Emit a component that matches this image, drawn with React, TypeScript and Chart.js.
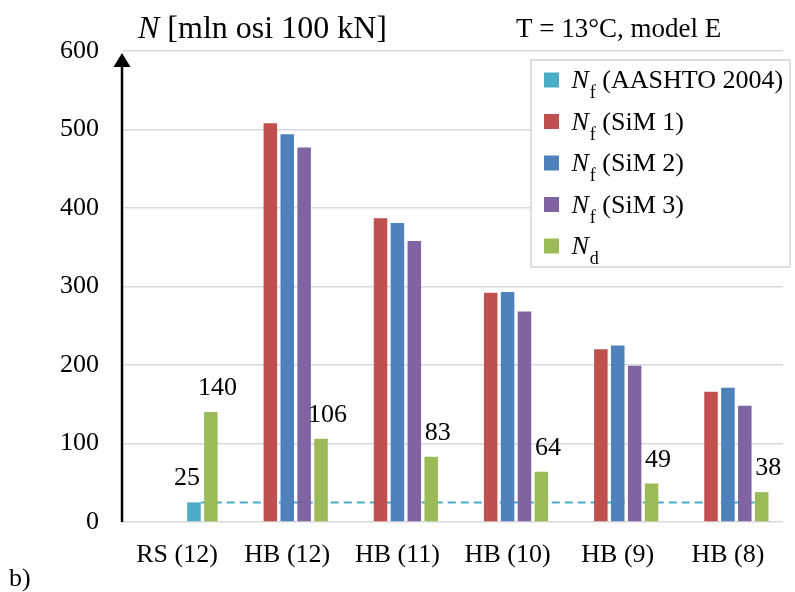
import { useEffect, useRef } from 'react';
import { Chart, registerables } from 'chart.js';

Chart.register(...registerables);

// ---- data ----
const categories = ['RS (12)', 'HB (12)', 'HB (11)', 'HB (10)', 'HB (9)', 'HB (8)'];
const nfAashto: (number | null)[] = [25, null, null, null, null, null];
const nfSim1: (number | null)[] = [null, 508, 387, 292, 220, 166];
const nfSim2: (number | null)[] = [null, 494, 381, 293, 225, 171];
const nfSim3: (number | null)[] = [null, 477, 358, 268, 199, 148];
const nd: number[] = [140, 106, 83, 64, 49, 38];
const yTicks = [0, 100, 200, 300, 400, 500, 600];

const legendItems = [
  { main: 'N', sub: 'f', rest: ' (AASHTO 2004)', color: '#4BACC6' },
  { main: 'N', sub: 'f', rest: ' (SiM 1)', color: '#C0504D' },
  { main: 'N', sub: 'f', rest: ' (SiM 2)', color: '#4F81BD' },
  { main: 'N', sub: 'f', rest: ' (SiM 3)', color: '#8064A2' },
  { main: 'N', sub: 'd', rest: '', color: '#9BBB59' },
];
const axisTitleMain = 'N';
const axisTitleRest = ' [mln osi 100 kN]';
const caseLabel = 'T = 13°C, model E';
const panelLabel = 'b)';

const FONT = "'Liberation Serif', 'Times New Roman', serif";
const IDX_AASHTO = 4;
const IDX_ND = 5;

function drawRich(
  ctx: CanvasRenderingContext2D,
  x: number,
  y: number,
  main: string,
  sub: string,
  rest: string,
  size: number,
  subSize: number,
) {
  ctx.font = `italic ${size}px ${FONT}`;
  ctx.fillText(main, x, y);
  x += ctx.measureText(main).width;
  if (sub) {
    ctx.font = `${subSize}px ${FONT}`;
    ctx.fillText(sub, x + 1, y + 10);
    x += ctx.measureText(sub).width + 1;
  }
  if (rest) {
    ctx.font = `${size}px ${FONT}`;
    ctx.fillText(rest, x, y);
  }
}

const overlayPlugin = {
  id: 'overlay',
  beforeDatasetsDraw(chart: any) {
    // dashed reference level at the AASHTO value, running under the bars
    const ctx: CanvasRenderingContext2D = chart.ctx;
    const y = chart.scales.y.getPixelForValue(nfAashto[0]);
    const startBar: any = chart.getDatasetMeta(IDX_AASHTO).data[0];
    const ndBars: any[] = chart.getDatasetMeta(IDX_ND).data;
    const endBar = ndBars[ndBars.length - 1];
    ctx.save();
    ctx.strokeStyle = '#4BACC6';
    ctx.lineWidth = 2;
    ctx.setLineDash([8, 5]);
    ctx.beginPath();
    ctx.moveTo(startBar.x + startBar.width / 2, y);
    ctx.lineTo(endBar.x + endBar.width / 2, y);
    ctx.stroke();
    ctx.restore();
  },
  afterDraw(chart: any) {
    const ctx: CanvasRenderingContext2D = chart.ctx;
    const area = chart.chartArea;
    ctx.save();

    // vertical axis with arrow head
    const ax = area.left;
    ctx.strokeStyle = '#000';
    ctx.fillStyle = '#000';
    ctx.lineWidth = 2.5;
    ctx.beginPath();
    ctx.moveTo(ax, area.bottom);
    ctx.lineTo(ax, area.top + 14);
    ctx.stroke();
    ctx.beginPath();
    ctx.moveTo(ax - 8.5, area.top + 16);
    ctx.lineTo(ax + 8.5, area.top + 16);
    ctx.lineTo(ax, area.top + 2);
    ctx.closePath();
    ctx.fill();

    // value labels
    ctx.font = `26px ${FONT}`;
    ctx.textAlign = 'center';
    ctx.textBaseline = 'alphabetic';
    const aBar: any = chart.getDatasetMeta(IDX_AASHTO).data[0];
    ctx.fillText(String(nfAashto[0]), aBar.x - 7, aBar.y - 17);
    const ndBars: any[] = chart.getDatasetMeta(IDX_ND).data;
    ndBars.forEach((bar, i) => {
      ctx.fillText(String(nd[i]), bar.x + 6.5, bar.y - 17);
    });

    // legend
    ctx.textAlign = 'left';
    const lx = 531;
    const ly = 60;
    const lw = 259;
    const lh = 207;
    ctx.fillStyle = '#fff';
    ctx.fillRect(lx, ly, lw, lh);
    ctx.strokeStyle = '#d4d4d4';
    ctx.lineWidth = 1.5;
    ctx.strokeRect(lx, ly, lw, lh);
    legendItems.forEach((item, i) => {
      const cy = 80 + i * 41.5;
      ctx.fillStyle = item.color;
      ctx.fillRect(544, cy - 7.5, 15, 15);
      ctx.fillStyle = '#000';
      drawRich(ctx, 571.5, cy + 8, item.main, item.sub, item.rest, 26, 18);
    });

    // titles
    ctx.fillStyle = '#000';
    drawRich(ctx, 138, 38, axisTitleMain, '', axisTitleRest, 32, 20);
    ctx.font = `27px ${FONT}`;
    ctx.fillText(caseLabel, 516, 37);
    ctx.font = `26px ${FONT}`;
    ctx.fillText(panelLabel, 9, 586);

    ctx.restore();
  },
};

export default function App() {
  const canvasRef = useRef<HTMLCanvasElement | null>(null);

  useEffect(() => {
    if (!canvasRef.current) return;
    const common = {
      categoryPercentage: 0.767,
      barPercentage: 0.8,
      borderWidth: 0,
    };
    const chart = new Chart(canvasRef.current, {
      type: 'bar',
      data: {
        labels: categories,
        datasets: [
          // empty leading slot of each group
          { label: '', data: categories.map(() => null), stack: 's0', backgroundColor: 'transparent', ...common },
          { label: 'Nf (SiM 1)', data: nfSim1, stack: 's1', backgroundColor: '#C0504D', ...common },
          { label: 'Nf (SiM 2)', data: nfSim2, stack: 's2', backgroundColor: '#4F81BD', ...common },
          { label: 'Nf (SiM 3)', data: nfSim3, stack: 's3', backgroundColor: '#8064A2', ...common },
          { label: 'Nf (AASHTO 2004)', data: nfAashto, stack: 's3', backgroundColor: '#4BACC6', ...common },
          { label: 'Nd', data: nd, stack: 's4', backgroundColor: '#9BBB59', ...common },
        ],
      },
      options: {
        responsive: false,
        animation: false,
        layout: { padding: { left: 0, right: 12, top: 51, bottom: 0 } },
        plugins: {
          legend: { display: false },
          tooltip: { enabled: false },
        },
        scales: {
          x: {
            grid: { display: false },
            border: { display: false },
            ticks: {
              color: '#000',
              font: { family: FONT, size: 26 },
              padding: 10,
              maxRotation: 0,
              autoSkip: false,
            },
            afterFit: (scale: any) => {
              scale.height = 70;
            },
          },
          y: {
            stacked: false,
            min: yTicks[0],
            max: yTicks[yTicks.length - 1],
            afterBuildTicks: (scale: any) => {
              scale.ticks = yTicks.map((v) => ({ value: v }));
            },
            grid: { color: '#d9d9d9', lineWidth: 1.5, drawTicks: false },
            border: { display: false },
            ticks: {
              color: '#000',
              font: { family: FONT, size: 26 },
              padding: 23,
            },
            afterFit: (scale: any) => {
              scale.width = 122;
            },
          },
        },
      },
      plugins: [overlayPlugin],
    } as any);
    return () => chart.destroy();
  }, []);

  return (
    <div style={{ position: 'fixed', left: 0, top: 0, width: 795, height: 592, background: '#fff' }}>
      <canvas ref={canvasRef} width={795} height={592} style={{ display: 'block' }} />
    </div>
  );
}
